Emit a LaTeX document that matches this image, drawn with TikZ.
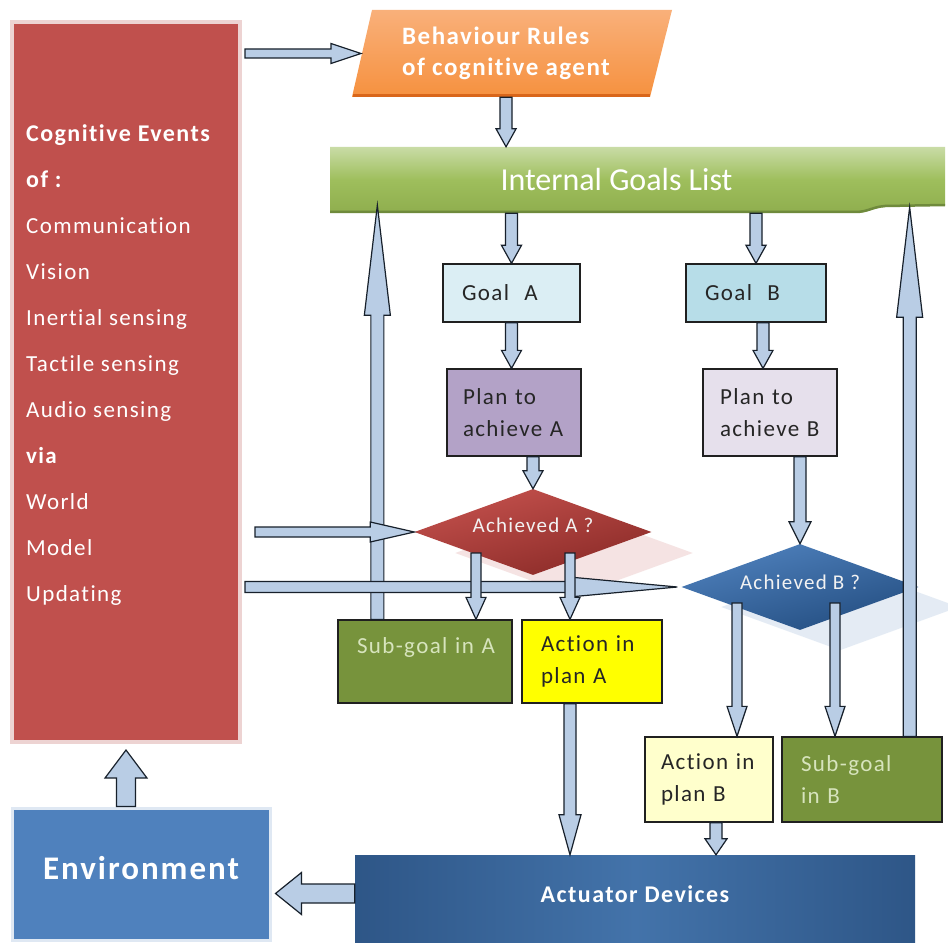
\documentclass[tikz,border=0pt]{standalone}
\usepackage{fontspec}
\setmainfont{Carlito}[Ligatures=NoCommon]
\newfontfamily\spaced{Carlito}[LetterSpace=6,Ligatures=NoCommon]
\usetikzlibrary{shapes.geometric,calc,backgrounds}

\definecolor{cogred}{HTML}{C0504D}
\definecolor{cogedge}{HTML}{EDD3D2}
\definecolor{behtop}{HTML}{F9B07A}
\definecolor{behbot}{HTML}{F6913F}
\definecolor{behedge}{HTML}{D9661A}
\definecolor{igltop}{HTML}{C9DCA6}
\definecolor{iglmid}{HTML}{9EBE5C}
\definecolor{iglbot}{HTML}{8FAE4E}
\definecolor{igledge}{HTML}{6F8A3C}
\definecolor{goalA}{HTML}{DBEEF4}
\definecolor{goalB}{HTML}{B7DDE8}
\definecolor{planA}{HTML}{B3A2C7}
\definecolor{planB}{HTML}{E6E0EC}
\definecolor{subgreen}{HTML}{77933C}
\definecolor{subtext}{HTML}{D7E4BD}
\definecolor{actA}{HTML}{FFFF00}
\definecolor{actB}{HTML}{FFFFCC}
\definecolor{achAtop}{HTML}{C4514D}
\definecolor{achAbot}{HTML}{8A2A27}
\definecolor{achBtop}{HTML}{4F81BD}
\definecolor{achBbot}{HTML}{234D80}
\definecolor{actdark}{HTML}{2E5687}
\definecolor{actlight}{HTML}{4373AA}
\definecolor{envblue}{HTML}{4F81BD}
\definecolor{envedge}{HTML}{DFE8F3}
\definecolor{arrowfill}{HTML}{B9CDE5}
\definecolor{arrowline}{HTML}{17202B}
\definecolor{boxline}{HTML}{202020}
\definecolor{darktxt}{HTML}{262626}

\tikzset{
  bw/.store in=\blkw, bh/.store in=\blkh, bl/.store in=\blkl,
  bw=6pt, bh=10pt, bl=18pt,
  % block arrow: shaft half-width bw, head half-width bh, head length bl
  blk/.style={fill=arrowfill, draw=arrowline, line width=1.2pt, line join=miter,
    to path={let \p1=(\tikztostart), \p2=(\tikztotarget),
      \n1={veclen(\x2-\x1,\y2-\y1)}, \n2={(\x2-\x1)/\n1}, \n3={(\y2-\y1)/\n1} in
      ({\x1-\n3*\blkw},{\y1+\n2*\blkw})
      -- ({\x2-\n2*\blkl-\n3*\blkw},{\y2-\n3*\blkl+\n2*\blkw})
      -- ({\x2-\n2*\blkl-\n3*\blkh},{\y2-\n3*\blkl+\n2*\blkh})
      -- (\p2)
      -- ({\x2-\n2*\blkl+\n3*\blkh},{\y2-\n3*\blkl-\n2*\blkh})
      -- ({\x2-\n2*\blkl+\n3*\blkw},{\y2-\n3*\blkl-\n2*\blkw})
      -- ({\x1+\n3*\blkw},{\y1-\n2*\blkw}) -- cycle}},
  box/.style={rectangle, inner sep=0pt, draw=boxline, line width=1.3pt, align=left},
  cond/.style={diamond, inner sep=0pt, aspect=2.8, minimum width=237pt, minimum height=86pt,
    text=white!95!black, font=\spaced\fontsize{21}{26}\selectfont},
}

\begin{document}
\begin{tikzpicture}[x=1pt, y=-1pt, font=\spaced\fontsize{23}{32}\selectfont]
\begin{scope}[on background layer]
  \fill[white] (0,0) rectangle (948,944);
\end{scope}
\useasboundingbox (0,0) rectangle (948,944);

% sensing column
\node[inner sep=0pt, minimum width=228pt, minimum height=720pt, fill=cogred,
      draw=cogedge, line width=4pt] (cog) at (126,382) {};
\node[anchor=north west, inner sep=0pt, align=left, text=white,
      font=\spaced\fontsize{23}{46}\selectfont] (cogtxt) at (26,124)
  {\textbf{\fontsize{24}{46}\selectfont Cognitive Events}\\ \textbf{\fontsize{24}{46}\selectfont of :}\\
   Communication\\ Vision\\ Inertial sensing\\
   Tactile sensing\\ Audio sensing\\ \textbf{via}\\ World\\ Model\\ Updating};

\node[inner sep=0pt, minimum width=258pt, minimum height=132pt, fill=envblue,
      draw=envedge, line width=3pt, text=white,
      font=\spaced\bfseries\fontsize{33}{38}\selectfont] (env) at (141,874) {\raisebox{12pt}{Environment}};

% rules and goal list
\node[anchor=west, inner xsep=41pt, inner ysep=0pt, minimum height=87pt, align=left,
      text=white, font=\spaced\bfseries\fontsize{25}{31}\selectfont] (beh) at (361,53.5)
  {Behaviour Rules\\of cognitive agent};
\node[inner sep=0pt, minimum width=615pt, minimum height=66pt, text=white,
      font=\fontsize{32}{36}\selectfont] (igl) at (637.5,180) {\hspace*{-42pt}Internal Goals List};

% goals and plans
\node[box, fill=goalA, minimum width=137pt, minimum height=58pt, text width=99pt, text=darktxt]
  (gA) at (511.5,293) {Goal\ \ A};
\node[box, fill=goalB, minimum width=140pt, minimum height=58pt, text width=102pt, text=darktxt]
  (gB) at (756,293) {Goal\ \ B};
\node[box, fill=planA, minimum width=134pt, minimum height=87pt, text width=102pt, text=darktxt]
  (pA) at (514,412.5) {Plan to\\achieve A};
\node[box, fill=planB, minimum width=134pt, minimum height=87pt, text width=100pt, text=darktxt]
  (pB) at (770,412.5) {Plan to\\achieve B};

% decisions
\node[cond, top color=achAtop, bottom color=achAbot, shading angle=15] (achA) at (533,532) {\raisebox{14pt}{Achieved A ?}};
\node[cond, top color=achBtop, bottom color=achBbot, shading angle=15] (achB) at (800,587) {\raisebox{10pt}{Achieved B ?}};

% outcomes
\node[box, fill=subgreen, minimum width=174pt, minimum height=83pt, text width=136pt, text=subtext]
  (subA) at (425,661.5) {\mbox{Sub-goal in A}\\\mbox{}};
\node[box, fill=actA, minimum width=140pt, minimum height=83pt, text width=102pt, text=darktxt]
  (actA) at (592,661.5) {Action in\\plan A};
\node[box, fill=actB, minimum width=128pt, minimum height=85pt, text width=96pt, text=darktxt]
  (actB) at (709,779.5) {Action in\\plan B};
\node[box, fill=subgreen, minimum width=160pt, minimum height=85pt, text width=122pt, text=subtext]
  (subB) at (862,779.5) {Sub-goal\\in B};

\node[inner sep=0pt, minimum width=560pt, minimum height=87pt, left color=actdark,
      right color=actdark, middle color=actlight, text=white,
      font=\spaced\bfseries\fontsize{24}{28}\selectfont] (act) at (635,898.5) {\raisebox{8pt}{Actuator Devices}};

% shaped backgrounds and shadows
\begin{scope}[on background layer]
  \shade[top color=behtop, bottom color=behbot] (372,10) -- (672,10) -- (650,97) -- (352,97) -- cycle;
  \draw[behedge, line width=3pt] (353,96) -- (650,96);
  \shade[top color=igltop, bottom color=iglbot, middle color=iglmid]
    (330,147) -- (945,147) -- (945,205) -- (885,207)
    .. controls (872,208) and (868,213) .. (855,213) -- (330,213) -- cycle;
  \draw[igledge, line width=2.5pt] (330,212) -- (855,212) .. controls (868,212) and (872,207) .. (885,206) -- (945,205);
  \fill[cogred!35!white, opacity=0.45]
    ($(achA.north)+(41,21)$) -- ($(achA.east)+(41,21)$) -- ($(achA.south)+(41,21)$) -- ($(achA.west)+(41,21)$) -- cycle;
  \fill[achBtop!25!white, opacity=0.6]
    ($(achB.north)+(40,20)$) -- ($(achB.east)+(40,20)$) -- ($(achB.south)+(40,20)$) -- ($(achB.west)+(40,20)$) -- cycle;
\end{scope}

% connector end points
\coordinate (sA) at ($(achA.center)+(-57,21)$);
\coordinate (aA) at ($(achA.center)+(37,21)$);
\coordinate (aB) at ($(achB.center)+(-63,16)$);
\coordinate (sB) at ($(achB.center)+(35,16)$);
\coordinate (upA) at ([xshift=40pt]subA.north west);
\coordinate (upB) at ([xshift=-33pt]subB.north east);
\coordinate (upAt) at (upA |- igl.south);
\coordinate (upBt) at (upB |- igl.south);
\coordinate (envt) at (act.west -| env.east);

% connectors
\path[blk, bw=4.5pt, bh=10pt, bl=30pt] ([xshift=3pt]cog.east |- beh.west) to (beh.west);
\path[blk] (beh.south) to (beh.south |- igl.north);
\path[blk] (gA.north |- igl.south) to (gA.north);
\path[blk] (gB.north |- igl.south) to (gB.north);
\path[blk] (gA.south) to (gA.south |- pA.north);
\path[blk] ([xshift=7pt]gB.south) to ([xshift=7pt]gB.south |- pB.north);
\path[blk] (pA.south -| achA.north) to (achA.north);
\path[blk, bh=11pt, bl=22pt] (pB.south -| achB.north) to (achB.north);

\path[blk, bw=6.5pt, bh=13pt, bl=110pt] (upA) to ([yshift=8pt]upAt);
\path[blk, bw=6.5pt, bh=13pt, bl=110pt] (upB) to ([yshift=6pt]upBt);

\path[blk, bw=5pt, bh=10pt, bl=44pt] ([xshift=13pt]cog.east |- achA.west) to (achA.west);
\path[blk, bw=5.5pt, bh=10pt, bl=108pt] ([xshift=3pt]cog.east |- achB.west) to ([xshift=-4pt]achB.west);

\path[blk, bw=5pt, bh=10pt, bl=22pt] (sA) to (sA |- subA.north);
\path[blk, bw=5pt, bh=10pt, bl=22pt] (aA) to (aA |- actA.north);
\path[blk, bw=5pt, bh=10pt, bl=30pt] (aB) to (aB |- actB.north);
\path[blk, bw=5pt, bh=10pt, bl=30pt] (sB) to (sB |- subB.north);

\path[blk, bw=6pt, bh=11pt, bl=40pt] (aA |- actA.south) to (aA |- act.north);
\path[blk, bw=6pt, bh=11pt, bl=16pt] ([xshift=7pt]actB.south) to ([xshift=7pt]actB.south |- act.north);

\path[blk, bw=9.5pt, bh=21pt, bl=26pt] ([yshift=5pt]act.west) to ([xshift=4pt,yshift=5pt]envt);
\path[blk, bw=9.5pt, bh=21pt, bl=28pt] (env.north -| cog.south) to ([yshift=-6pt]cog.south);
\end{tikzpicture}
\end{document}
